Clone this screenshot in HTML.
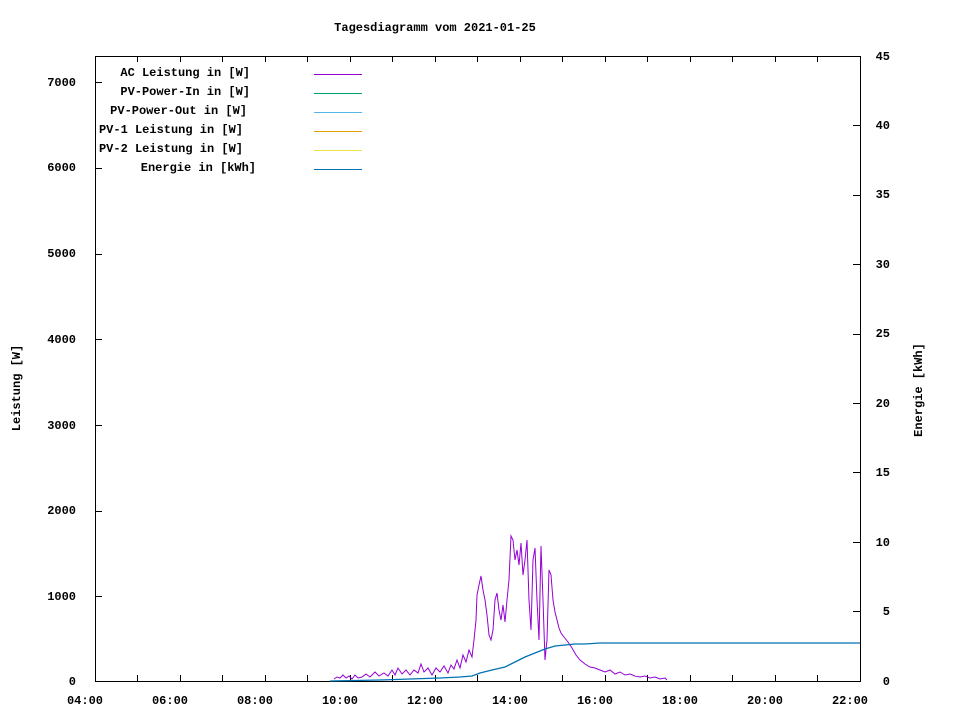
<!DOCTYPE html>
<html><head><meta charset="utf-8"><style>
html,body{margin:0;padding:0;background:#fff;}
svg{display:block;font-family:"Liberation Mono","DejaVu Sans Mono",monospace;font-size:12px;font-weight:bold;}
</style></head><body>
<svg width="960" height="720" viewBox="0 0 960 720" xmlns="http://www.w3.org/2000/svg">
<rect width="960" height="720" fill="#fff"/>
<text x="435" y="31" text-anchor="middle">Tagesdiagramm vom 2021-01-25</text>
<rect x="95.5" y="56.5" width="765" height="625" fill="none" stroke="#000" stroke-width="1"/>
<g stroke="#000" stroke-width="1">
<!-- left ticks -->
<path d="M95 596.5h7M95 511.5h7M95 425.5h7M95 339.5h7M95 254.5h7M95 168.5h7M95 82.5h7"/>
<!-- right ticks -->
<path d="M860 611.5h-7M860 542.5h-7M860 472.5h-7M860 403.5h-7M860 334.5h-7M860 264.5h-7M860 195.5h-7M860 125.5h-7"/>
<!-- x ticks -->
<path d="M137.5 681v-6M180.5 681v-6M222.5 681v-6M265.5 681v-6M307.5 681v-6M350.5 681v-6M392.5 681v-6M435.5 681v-6M477.5 681v-6M520.5 681v-6M562.5 681v-6M605.5 681v-6M647.5 681v-6M690.5 681v-6M732.5 681v-6M775.5 681v-6M817.5 681v-6"/>
<path d="M137.5 56v6M180.5 56v6M222.5 56v6M265.5 56v6M307.5 56v6M350.5 56v6M392.5 56v6M435.5 56v6M477.5 56v6M520.5 56v6M562.5 56v6M605.5 56v6M647.5 56v6M690.5 56v6M732.5 56v6M775.5 56v6M817.5 56v6"/>
</g>
<g text-anchor="end">
<text x="76" y="685">0</text><text x="76" y="600">1000</text><text x="76" y="514">2000</text>
<text x="76" y="429">3000</text><text x="76" y="343">4000</text><text x="76" y="257">5000</text>
<text x="76" y="171">6000</text><text x="76" y="86">7000</text>
</g>
<g text-anchor="end">
<text x="890" y="685">0</text><text x="890" y="615">5</text><text x="890" y="546">10</text>
<text x="890" y="476">15</text><text x="890" y="407">20</text><text x="890" y="337">25</text>
<text x="890" y="268">30</text><text x="890" y="198">35</text><text x="890" y="129">40</text><text x="890" y="60">45</text>
</g>
<g text-anchor="middle">
<text x="85" y="704">04:00</text><text x="170" y="704">06:00</text><text x="255" y="704">08:00</text>
<text x="340" y="704">10:00</text><text x="425" y="704">12:00</text><text x="510" y="704">14:00</text>
<text x="595" y="704">16:00</text><text x="680" y="704">18:00</text><text x="765" y="704">20:00</text><text x="850" y="704">22:00</text>
</g>
<text transform="translate(20,388) rotate(-90)" text-anchor="middle">Leistung [W]</text>
<text transform="translate(922,390) rotate(-90)" text-anchor="middle">Energie [kWh]</text>
<g text-anchor="end">
<text x="250" y="76">AC Leistung in [W]</text>
<text x="250" y="95">PV-Power-In in [W]</text>
<text x="247" y="114">PV-Power-Out in [W]</text>
<text x="243" y="133">PV-1 Leistung in [W]</text>
<text x="243" y="152">PV-2 Leistung in [W]</text>
<text x="256" y="171">Energie in [kWh]</text>
</g>
<g stroke-width="1">
<path d="M314 74.5h48" stroke="#9400d3"/>
<path d="M314 93.5h48" stroke="#009e73"/>
<path d="M314 112.5h48" stroke="#56b4e9"/>
<path d="M314 131.5h48" stroke="#e69f00"/>
<path d="M314 150.5h48" stroke="#f0e442"/>
<path d="M314 169.5h48" stroke="#0072b2"/>
</g>
<polyline fill="none" stroke="#9400d3" stroke-width="1" points="
334,679 337,677 340,678 343,675 346,678 349,676 352,679 355,675 358,678 362,677 366,674 370,677 375,672 379,676 384,673 388,676 392,670 395,675 398,668 402,674 406,670 410,675 414,670 418,673 421,664 424,672 428,668 432,675 436,668 440,672 444,666 448,673 451,665 454,669 457,660 460,668 463,655 466,662 469,650 472,657 474,640 476,620 477,595 479,585 481,576 483,590 485,600 487,615 489,635 491,640 493,630 495,600 497,593 499,610 501,620 503,605 505,622 507,600 509,580 511,536 513,540 515,560 517,550 519,565 521,543 523,575 525,560 527,540 529,600 531,630 533,560 535,548 537,600 539,640 541,546 543,600 545,660 547,640 549,570 551,575 553,600 555,612 557,620 559,628 561,633 564,637 568,642 572,648 576,655 580,660 585,664 590,667 595,668 600,670 605,672 610,670 615,674 620,672 625,675 630,674 635,676 640,677 645,676 650,678 655,677 660,679 665,678 667,680"/>
<polyline fill="none" stroke="#0072b2" stroke-width="1.3" points="
330,681 380,680 410,679 440,678 460,677 472,676 480,673 492,670 505,667 515,662 525,657 535,653 545,649 555,646 565,645 575,644 585,644 600,643 620,643 640,643 660,643 700,643 860,643"/>
</svg>
</body></html>
